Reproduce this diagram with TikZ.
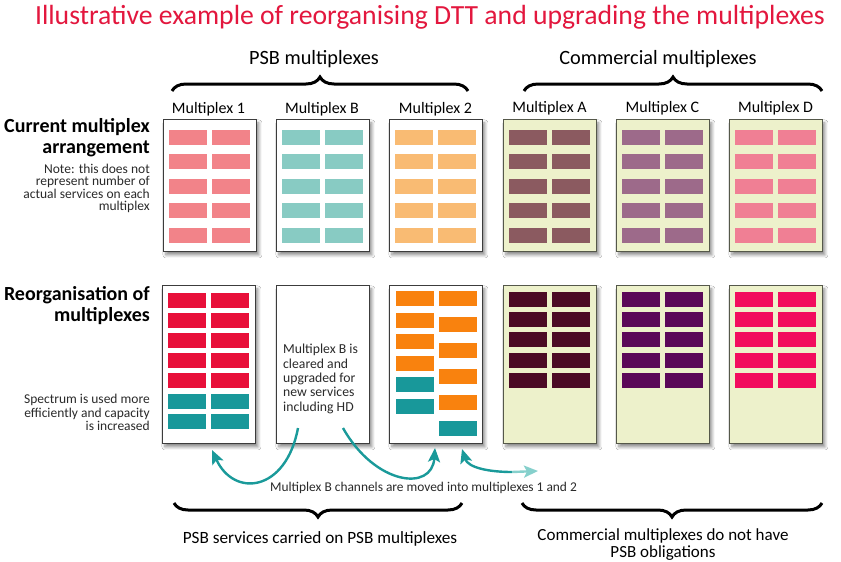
\documentclass[tikz,border=0pt]{standalone}
\usepackage{fontspec}
\setmainfont{Carlito}
\usetikzlibrary{shadows.blur,decorations.pathreplacing,arrows.meta}
\definecolor{titlered}{HTML}{E3173E}
\definecolor{pborder}{HTML}{3C3C3C}
\definecolor{cborder}{HTML}{55584A}
\definecolor{commfill}{HTML}{EDF1CB}
\definecolor{tA}{HTML}{F28389}
\definecolor{tB}{HTML}{88CBC3}
\definecolor{tC}{HTML}{F9BB73}
\definecolor{tD}{HTML}{8B5A60}
\definecolor{tE}{HTML}{9D6A8A}
\definecolor{tF}{HTML}{F07F94}
\definecolor{bred}{HTML}{E8103A}
\definecolor{bteal}{HTML}{18989A}
\definecolor{borange}{HTML}{F9820E}
\definecolor{bmaroon}{HTML}{4B0A25}
\definecolor{bpurple}{HTML}{5B0858}
\definecolor{bpink}{HTML}{F20C5E}
\definecolor{arrteal}{HTML}{1A9A9A}
\definecolor{arrlight}{HTML}{86D0CC}
\definecolor{txtgrey}{HTML}{2A2A2A}
\tikzset{
  panelbase/.style={line width=0.9pt, minimum width=93pt, inner sep=0pt,
    blur shadow={shadow xshift=2.5pt, shadow yshift=-3.5pt, shadow blur steps=6,
      shadow blur radius=3pt, shadow opacity=45}},
  panelw/.style={panelbase, draw=pborder, fill=white},
  panelc/.style={panelbase, draw=cborder, fill=commfill},
  titlefont/.style={font=\fontsize{27.7}{30}\selectfont, text=titlered, inner sep=0pt},
  headt/.style={font=\fontsize{20.3}{24}\selectfont, inner sep=0pt},
  mlab/.style={font=\fontsize{16}{18}\selectfont, inner sep=0pt},
  rowhead/.style={font=\bfseries\fontsize{20}{21}\selectfont, align=right, inner sep=0pt},
  smallnote/.style={font=\fontsize{13.5}{12.3}\selectfont, align=right, inner sep=0pt, text=txtgrey},
  bracestyle/.style={decorate, decoration={brace, amplitude=14pt}, line width=3pt},
  bracemirror/.style={decorate, decoration={brace, mirror, amplitude=14pt}, line width=3pt},
  arr/.style={line width=2.4pt, draw=arrteal, -{Stealth[length=14pt,width=12pt,inset=3pt]}},
}
\newcommand\mytoppanel[4]{%
  \node[#3, minimum height=132pt, anchor=north west] (#1) at (#2,119) {};
  \foreach \j in {0,...,4}{
    \fill[#4] ({#2+6},{129.5+24.5*\j}) rectangle +(38,15);
    \fill[#4] ({#2+49},{129.5+24.5*\j}) rectangle +(38,15);
  }%
}
\newcommand\mybotpanel[4]{%
  \node[#3, minimum height=158pt, anchor=north west] (#1) at (#2,285) {};
  \foreach \j in {0,...,4}{
    \fill[#4] ({#2+6},{292+20.2*\j}) rectangle +(38,15);
    \fill[#4] ({#2+49},{292+20.2*\j}) rectangle +(38,15);
  }%
}
\begin{document}
\begin{tikzpicture}[x=1pt,y=-1pt]
\useasboundingbox (0,0) rectangle (841,562);
\fill[white] (0,0) rectangle (841,562);

% title
\node[titlefont, anchor=base] (title) at (430,24) {Illustrative example of reorganising DTT and upgrading the multiplexes};

% group headings
\node[headt, anchor=base] (psbh) at (314,64) {PSB multiplexes};
\node[headt, anchor=base] (comh) at (658,64) {Commercial multiplexes};
\coordinate (tb1a) at (172,91); \coordinate (tb1b) at (468,91);
\coordinate (tb2a) at (524,91); \coordinate (tb2b) at (822,91);
\draw[bracestyle] (tb1a) -- (tb1b);
\draw[bracestyle] (tb2a) -- (tb2b);

% row headings
\node[rowhead, anchor=north east] (rh1) at (150,118) {Current multiplex\\arrangement};
\node[smallnote, anchor=north east] (note1) at (150,164) {Note: this does not\\represent number of\\actual services on each\\multiplex};
\node[rowhead, anchor=north east] (rh2) at (150,286) {Reorganisation of\\multiplexes};
\node[smallnote, anchor=north east, font=\fontsize{13.5}{13.6}\selectfont] (note2) at (150,394) {Spectrum is used more\\efficiently and capacity\\is increased};

% multiplex labels
\node[mlab, anchor=base] (l1) at (208.5,113) {Multiplex 1};
\node[mlab, anchor=base] (lB) at (322,113) {Multiplex B};
\node[mlab, anchor=base] (l2) at (435.5,113) {Multiplex 2};
\node[mlab, anchor=base] (lA) at (549.5,112) {Multiplex A};
\node[mlab, anchor=base] (lC) at (662.5,112) {Multiplex C};
\node[mlab, anchor=base] (lD) at (775.5,112) {Multiplex D};

% top row
\mytoppanel{t1}{163}{panelw}{tA}
\mytoppanel{tB}{276}{panelw}{tB}
\mytoppanel{t2}{389}{panelw}{tC}
\mytoppanel{tA}{503}{panelc}{tD}
\mytoppanel{tC}{616}{panelc}{tE}
\mytoppanel{tD}{729}{panelc}{tF}

% bottom row: multiplex 1
\node[panelw, minimum height=158pt, anchor=north west] (b1) at (162,285) {};
\foreach \j in {0,...,6}{
  \pgfmathsetmacro\yy{293+20.1*\j}
  \ifnum\j<5
    \fill[bred] (168,\yy) rectangle +(38,15);
    \fill[bred] (211,\yy) rectangle +(38,15);
  \else
    \fill[bteal] (168,\yy) rectangle +(38,15);
    \fill[bteal] (211,\yy) rectangle +(38,15);
  \fi
}
% multiplex B
\node[panelw, minimum height=158pt, anchor=north west] (bB) at (276,285) {};
\node[font=\fontsize{13.7}{14.4}\selectfont, align=left, inner sep=0pt, text=txtgrey, anchor=north west] (bBtxt) at (283,344) {Multiplex B is\\cleared and\\upgraded for\\new services\\including HD};
% multiplex 2
\node[panelw, minimum height=158pt, anchor=north west] (b2) at (389,285) {};
\foreach \j/\c in {0/borange,1/borange,2/borange,3/borange,4/bteal,5/bteal}{
  \fill[\c] (396,{291+21.6*\j}) rectangle +(38,15);
}
\foreach \j/\c in {0/borange,1/borange,2/borange,3/borange,4/borange,5/bteal}{
  \fill[\c] (439,{291+26*\j}) rectangle +(38,15);
}
% commercial bottom
\mybotpanel{bA}{503}{panelc}{bmaroon}
\mybotpanel{bC}{616}{panelc}{bpurple}
\mybotpanel{bD}{729}{panelc}{bpink}

% arrows
\coordinate (a1s) at (298,428); \coordinate (a1e) at (212,450);
\coordinate (a2s) at (343,428); \coordinate (a2e) at (435,448);
\coordinate (a3s) at (462,449); \coordinate (a3m) at (512,472); \coordinate (a3e) at (538,471);
\draw[arr] (a1s) .. controls (286,492) and (234,498) .. (a1e);
\draw[arr] (a2s) .. controls (375,485) and (432,492) .. (a2e);
\draw[line width=2.4pt, draw=arrteal, {Stealth[length=14pt,width=12pt,inset=3pt]}-] (a3s) .. controls (468,468) and (490,472) .. (a3m);
\draw[line width=2.4pt, draw=arrlight, -{Stealth[length=14pt,width=12pt,inset=3pt]}] (a3m) -- (a3e);
\node[font=\fontsize{13.4}{15}\selectfont, text=txtgrey, inner sep=0pt, anchor=base] (arrlab) at (423.5,491) {Multiplex B channels are moved into multiplexes 1 and 2};

% bottom braces and labels
\coordinate (bb1a) at (174,503); \coordinate (bb1b) at (462,503);
\coordinate (bb2a) at (522,503); \coordinate (bb2b) at (822,503);
\draw[bracemirror] (bb1a) -- (bb1b);
\draw[bracemirror] (bb2a) -- (bb2b);
\node[font=\fontsize{17.2}{17}\selectfont, inner sep=0pt, anchor=base] (psbl) at (320,543) {PSB services carried on PSB multiplexes};
\node[font=\fontsize{17}{17}\selectfont, inner sep=0pt, anchor=north, align=center] (coml) at (663,528) {Commercial multiplexes do not have\\PSB obligations};
\end{tikzpicture}
\end{document}
